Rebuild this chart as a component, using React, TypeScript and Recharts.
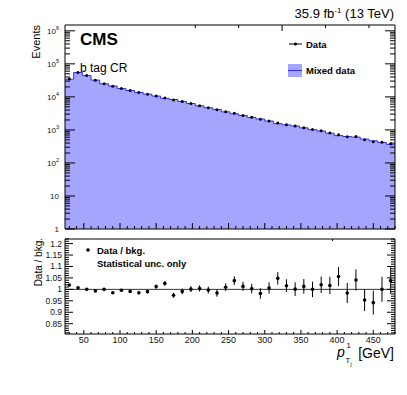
import React from 'react';
import { ComposedChart, Area, Line, XAxis, YAxis, ErrorBar, ReferenceLine } from 'recharts';

// ---- data ----
const binCenters = [30, 42, 54, 66, 78, 90, 102, 114, 126, 138, 150, 162, 174, 186, 198, 210, 222, 234, 246, 258,
  270, 282, 294, 306, 318, 330, 342, 354, 366, 378, 390, 402, 414, 426, 438, 450, 462, 474];
const binEdges = [24, 36, 48, 60, 72, 84, 96, 108, 120, 132, 144, 156, 168, 180, 192, 204, 216, 228, 240, 252,
  264, 276, 288, 300, 312, 324, 336, 348, 360, 372, 384, 396, 408, 420, 432, 444, 456, 468, 480];
const dataEvents = [35000, 55000, 44000, 32000, 25000, 21000, 17800, 15500, 13500, 12000, 10700, 9300, 8100, 7200,
  6300, 5400, 4700, 4100, 3550, 3200, 2750, 2400, 2100, 1860, 1620, 1440, 1320, 1170, 1020, 950, 810, 710, 620, 630,
  500, 440, 420, 380];
const mixedEvents = [34300, 54600, 44000, 32200, 25000, 21300, 17900, 15600, 13700, 12100, 10600, 9060, 8320, 7270,
  6290, 5380, 4710, 4170, 3520, 3080, 2710, 2390, 2140, 1850, 1550, 1420, 1320, 1155, 1020, 930, 795, 672, 630, 605,
  525, 467, 420, 366];
const ratioValues = [1.019, 1.007, 1.0, 0.993, 1.0, 0.985, 0.996, 0.991, 0.985, 0.99, 1.012, 1.026, 0.974, 0.991,
  1.001, 1.004, 0.997, 0.984, 1.009, 1.038, 1.013, 1.003, 0.982, 1.006, 1.048, 1.016, 1.001, 1.013, 1.0, 1.02, 1.017,
  1.056, 0.984, 1.041, 0.953, 0.942, 1.0, 1.038];
const ratioErrors = [0.005, 0.004, 0.004, 0.004, 0.005, 0.005, 0.006, 0.006, 0.007, 0.008, 0.009, 0.01, 0.011, 0.012,
  0.013, 0.014, 0.015, 0.016, 0.017, 0.019, 0.02, 0.021, 0.023, 0.025, 0.027, 0.028, 0.03, 0.032, 0.034, 0.036, 0.038,
  0.042, 0.044, 0.046, 0.048, 0.052, 0.055, 0.058];

// ---- ticks ----
const xMajorTicks = [50, 100, 150, 200, 250, 300, 350, 400, 450];
const xAllTicks = Array.from({ length: 46 }, (_, i) => 30 + i * 10);
const logDecades = [1, 10, 100, 1000, 10000, 100000, 1000000];
const logAllTicks: number[] = [];
for (let d = 0; d < 6; d++) for (let m = 1; m <= 9; m++) logAllTicks.push(m * Math.pow(10, d));
logAllTicks.push(1000000);
const ratioAllTicks = Array.from({ length: 42 }, (_, i) => (81 + i) / 100);
const ratioMajorTicks = [0.85, 0.9, 0.95, 1, 1.05, 1.1, 1.15, 1.2];

const FONT = '"Liberation Sans", Arial, Helvetica, sans-serif';
const FILL = '#a5a5fd';
const STROKE = '#2f2fff';

// build tables
const topRows: any[] = [];
binCenters.forEach((c, i) => {
  topRows.push({ x: binEdges[i], mixed: mixedEvents[i] });
  topRows.push({ x: c, data: dataEvents[i] });
});
topRows.push({ x: binEdges[binEdges.length - 1], mixed: mixedEvents[mixedEvents.length - 1] });

const ratioRows = binCenters.map((c, i) => ({ x: c, r: ratioValues[i], err: ratioErrors[i] }));

const isMajorX = (v: number) => xMajorTicks.includes(v);
const isDecade = (v: number) => logDecades.some((d) => Math.abs(d - v) < 1e-6 * d);
const isMajorR = (v: number) => ratioMajorTicks.some((t) => Math.abs(t - v) < 1e-6);

const mkXTick = (pos: 'top' | 'bottom', major: number, minor: number, labels: boolean) => (p: any) => {
  const v = p.payload.value;
  const L = isMajorX(v) ? major : minor;
  const d = pos === 'bottom' ? -L : L;
  return (
    <g key={`xt-${pos}-${v}`}>
      <line x1={p.x} x2={p.x} y1={p.y} y2={p.y + d} stroke="#000" strokeWidth={1} />
      {labels && isMajorX(v) && (
        <text x={p.x} y={p.y + 8.5} textAnchor="middle" fontSize={9} fontFamily={FONT} fill="#111">
          {v}
        </text>
      )}
    </g>
  );
};

const supDigits: Record<number, string> = { 100: '2', 1000: '3', 10000: '4', 100000: '5', 1000000: '6' };

const mkLogTick = (pos: 'left' | 'right', labels: boolean) => (p: any) => {
  const v = p.payload.value;
  const dec = isDecade(v);
  const L = dec ? 10 : 5;
  const d = pos === 'left' ? L : -L;
  let label: any = null;
  if (labels && dec) {
    const s = supDigits[Math.round(v)];
    label = (
      <text x={p.x - 6} y={p.y + 3} textAnchor="end" fontSize={8} fontFamily={FONT} fill="#111">
        {v === 1 ? '1' : '10'}
        {s && (
          <tspan fontSize={5.5} dy={-4}>
            {s}
          </tspan>
        )}
      </text>
    );
  }
  return (
    <g key={`lt-${pos}-${v}`}>
      <line x1={p.x} x2={p.x + d} y1={p.y} y2={p.y} stroke="#000" strokeWidth={1} />
      {label}
    </g>
  );
};

const mkRatioTick = (pos: 'left' | 'right', labels: boolean) => (p: any) => {
  const v = p.payload.value;
  const maj = isMajorR(v);
  const L = maj ? 8 : 4;
  const d = pos === 'left' ? L : -L;
  return (
    <g key={`rt-${pos}-${v}`}>
      <line x1={p.x} x2={p.x + d} y1={p.y} y2={p.y} stroke="#000" strokeWidth={1} />
      {labels && maj && (
        <text x={p.x - 3} y={p.y + 3} textAnchor="end" fontSize={8.5} fontFamily={FONT} fill="#111">
          {String(Math.round(v * 100) / 100)}
        </text>
      )}
    </g>
  );
};

const DataDot = (p: any) => {
  if (p.cy == null || isNaN(p.cy) || p.value == null) return <g key={`dd-${p.index}`} />;
  return <circle key={`dd-${p.index}`} cx={p.cx} cy={p.cy} r={1.5} fill="#000" />;
};
const RatioDot = (p: any) => {
  if (p.cy == null || isNaN(p.cy)) return <g key={`rd-${p.index}`} />;
  return <circle key={`rd-${p.index}`} cx={p.cx} cy={p.cy} r={1.8} fill="#000" />;
};

const W = 407;
const H = 395;

export default function App() {
  const abs: React.CSSProperties = { position: 'absolute', left: 0, top: 0 };
  return (
    <div style={{ position: 'absolute', left: 0, top: 0, width: W, height: H, background: '#fff' }}>
      <div style={abs}>
        <ComposedChart width={W} height={H} data={topRows} margin={{ top: 24, right: 11, bottom: H - 229 - 1, left: 64 }}>
          <XAxis dataKey="x" type="number" domain={[24, 480]} allowDataOverflow ticks={xAllTicks} interval={0}
            height={1} tickSize={0} tickMargin={0} tickLine={false} axisLine={{ stroke: '#000' }}
            tick={mkXTick('bottom', 6, 3, false)} />
          <XAxis xAxisId="top" orientation="top" type="number" domain={[24, 480]} allowDataOverflow ticks={xAllTicks}
            interval={0} height={1} tickSize={0} tickMargin={0} tickLine={false} axisLine={{ stroke: '#000' }}
            tick={mkXTick('top', 6, 3, false)} />
          <YAxis type="number" scale="log" domain={[1, 1500000]} allowDataOverflow ticks={logAllTicks} interval={0}
            width={1} tickSize={0} tickMargin={0} tickLine={false} axisLine={{ stroke: '#000' }}
            tick={mkLogTick('left', true)} />
          <YAxis yAxisId="right" orientation="right" type="number" scale="log" domain={[1, 1500000]} allowDataOverflow
            ticks={logAllTicks} interval={0} width={1} tickSize={0} tickMargin={0} tickLine={false}
            axisLine={{ stroke: '#000' }} tick={mkLogTick('right', false)} />
          <Area dataKey="mixed" type="stepAfter" baseValue={1} connectNulls fill={FILL} fillOpacity={1}
            stroke={STROKE} strokeWidth={1} isAnimationActive={false} dot={false} activeDot={false} />
          <Line dataKey="data" stroke="none" dot={DataDot} activeDot={false} isAnimationActive={false} />
        </ComposedChart>
      </div>
      <div style={abs}>
        <ComposedChart width={W} height={H} data={ratioRows} margin={{ top: 238, right: 11, bottom: H - 334 - 1, left: 64 }}>
          <XAxis dataKey="x" type="number" domain={[24, 480]} allowDataOverflow ticks={xAllTicks} interval={0}
            height={1} tickSize={0} tickMargin={0} tickLine={false} axisLine={{ stroke: '#000' }}
            tick={mkXTick('bottom', 4, 2, true)} />
          <XAxis xAxisId="top" orientation="top" type="number" domain={[24, 480]} allowDataOverflow ticks={xAllTicks}
            interval={0} height={1} tickSize={0} tickMargin={0} tickLine={false} axisLine={{ stroke: '#000' }}
            tick={mkXTick('top', 4, 2, false)} />
          <YAxis type="number" domain={[0.805, 1.22]} allowDataOverflow ticks={ratioAllTicks} interval={0}
            width={1} tickSize={0} tickMargin={0} tickLine={false} axisLine={{ stroke: '#000' }}
            tick={mkRatioTick('left', true)} />
          <YAxis yAxisId="right" orientation="right" type="number" domain={[0.805, 1.22]} allowDataOverflow
            ticks={ratioAllTicks} interval={0} width={1} tickSize={0} tickMargin={0} tickLine={false}
            axisLine={{ stroke: '#000' }} tick={mkRatioTick('right', false)} />
          <ReferenceLine y={1} stroke="#333" strokeWidth={1} />
          <Line dataKey="r" stroke="none" dot={RatioDot} activeDot={false} isAnimationActive={false}>
            <ErrorBar dataKey="err" width={0} stroke="#000" strokeWidth={1} />
          </Line>
        </ComposedChart>
      </div>
      <svg width={W} height={H} style={{ ...abs, pointerEvents: 'none' }} fontFamily={FONT}>
        <text x={394} y={18} textAnchor="end" fontSize={13} fill="#000">
          35.9 fb<tspan fontSize={8} dy={-5}>-1</tspan>
          <tspan dy={5}> (13 TeV)</tspan>
        </text>
        <text transform="translate(40,25) rotate(-90)" textAnchor="end" fontSize={11} fill="#000">Events</text>
        <text x={80} y={45} fontSize={17} fontWeight="bold" fill="#000">CMS</text>
        <text x={80} y={72} fontSize={12} fill="#000">b tag CR</text>
        <line x1={289} x2={302} y1={44} y2={44} stroke="#000" strokeWidth={1} />
        <circle cx={295.5} cy={44} r={1.5} fill="#000" />
        <text x={306} y={47.5} fontSize={9.5} fontWeight="bold" fill="#000">Data</text>
        <rect x={288} y={64} width={14} height={13} fill={FILL} />
        <line x1={288} x2={302} y1={70.5} y2={70.5} stroke={STROKE} strokeWidth={1} />
        <text x={306} y={74} fontSize={9.5} fontWeight="bold" fill="#000">Mixed data</text>
        <text transform="translate(42,238) rotate(-90)" textAnchor="end" fontSize={10} fill="#000">Data / bkg.</text>
        <circle cx={88} cy={250} r={1.8} fill="#000" />
        <text x={97} y={253.5} fontSize={9.5} fontWeight="bold" fill="#000">Data / bkg.</text>
        <text x={97} y={266.5} fontSize={9.5} fontWeight="bold" fill="#000">Statistical unc. only</text>
        <text x={337} y={357} fontSize={14} fontStyle="italic" fill="#000">p</text>
        <text x={346.5} y={347.5} fontSize={7.5} fill="#000">1</text>
        <text x={345.5} y={362.5} fontSize={7.5} fill="#000">T</text>
        <text x={350.5} y={366} fontSize={5} fill="#000">j</text>
        <text x={394} y={357.5} textAnchor="end" fontSize={14} fill="#000">[GeV]</text>
      </svg>
    </div>
  );
}
